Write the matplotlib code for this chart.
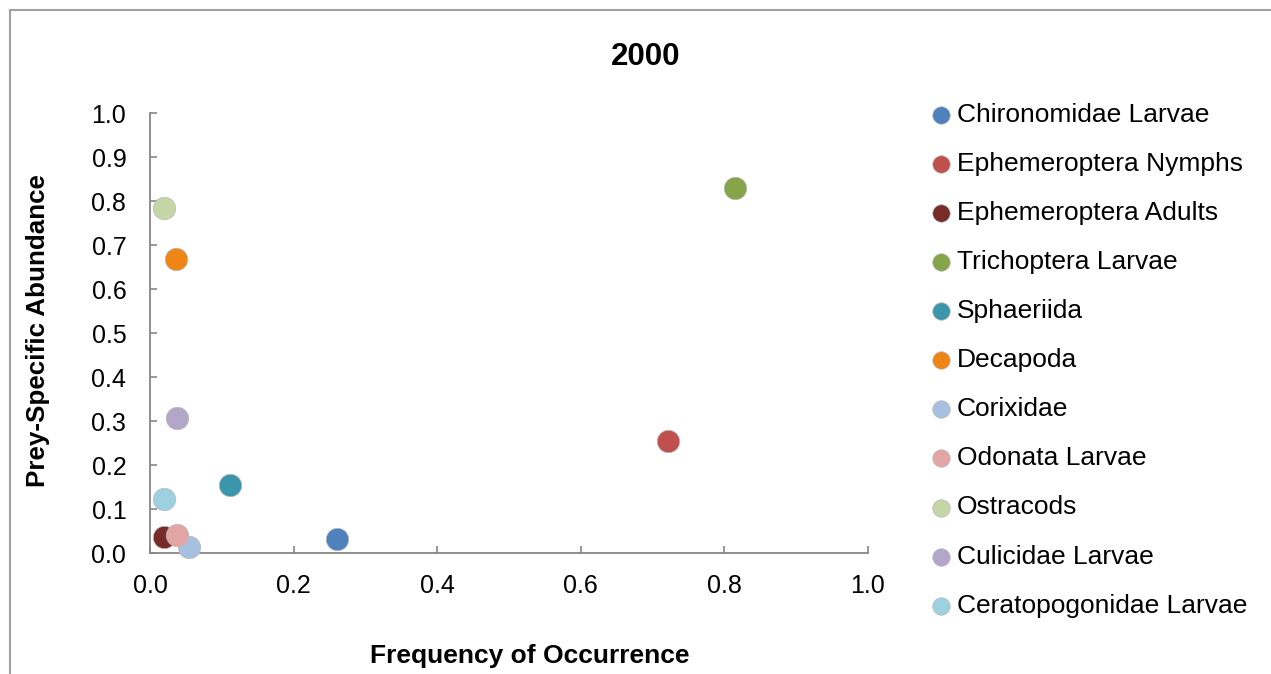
import matplotlib.pyplot as plt
from matplotlib.patches import Rectangle

plt.rcParams['font.family'] = ['Liberation Sans', 'DejaVu Sans']

prey = ["Chironomidae Larvae", "Ephemeroptera Nymphs", "Ephemeroptera Adults",
        "Trichoptera Larvae", "Sphaeriida", "Decapoda", "Corixidae",
        "Odonata Larvae", "Ostracods", "Culicidae Larvae", "Ceratopogonidae Larvae"]
freq = [0.260, 0.722, 0.019, 0.815, 0.111, 0.036, 0.055, 0.037, 0.019, 0.037, 0.019]
abundance = [0.032, 0.255, 0.038, 0.830, 0.155, 0.669, 0.015, 0.042, 0.784, 0.307, 0.123]
colors = ["#4F81BD", "#C0504D", "#772C2A", "#86A44A", "#3C96AB", "#EE8514",
          "#A7C0E0", "#E3A5A3", "#C4D6A5", "#B3A6C9", "#9ED1DF"]

ticks = [0.0, 0.1, 0.2, 0.3, 0.4, 0.5, 0.6, 0.7, 0.8, 0.9, 1.0]
xticks = [0.0, 0.2, 0.4, 0.6, 0.8, 1.0]

fig = plt.figure(figsize=(12.71, 6.74), dpi=100)
ax = fig.add_axes([0.1180, 0.1791, 0.5647, 0.6528])

for name, x, y, c in zip(prey, freq, abundance, colors):
    ax.scatter(x, y, s=260, color=c, edgecolors="#b8b8b8", linewidths=0.5,
               label=name, zorder=3, clip_on=False)

ax.set_xlim(0, 1)
ax.set_ylim(0, 1)
ax.set_xticks(xticks)
ax.set_yticks(ticks)
ax.set_xticklabels([f"{t:.1f}" for t in xticks])
ax.set_yticklabels([f"{t:.1f}" for t in ticks])

for side in ["top", "right"]:
    ax.spines[side].set_visible(False)
for side in ["left", "bottom"]:
    ax.spines[side].set_color("#868686")
    ax.spines[side].set_linewidth(1.3)
ax.tick_params(axis="both", direction="in", length=5, width=1.2,
               color="#868686", labelsize=18)
ax.tick_params(axis="y", pad=17)
ax.tick_params(axis="x", pad=15)

fig.text(0.508, 0.916, "2000", ha="center", va="center",
         fontsize=22.5, fontweight="bold")
fig.text(0.417, 0.027, "Frequency of Occurrence", ha="center", va="center",
         fontsize=19, fontweight="bold")
fig.text(0.030, 0.510, "Prey-Specific Abundance", ha="center", va="center",
         rotation=90, fontsize=18.7, fontweight="bold")

leg = ax.legend(loc="upper left", bbox_to_anchor=(0.7216, 0.863),
                bbox_transform=fig.transFigure, frameon=False,
                fontsize=19, markerscale=0.78, handletextpad=0.1,
                handlelength=1.0, labelspacing=0.95, borderaxespad=0)

# outer chart frame, open at right and bottom
fig.add_artist(Rectangle((10 / 1271, -0.5), 2, 0.5 + 664 / 674,
                         transform=fig.transFigure, fill=False,
                         edgecolor="#a0a0a0", linewidth=1.5))

fig.savefig("out.png", dpi=100)
